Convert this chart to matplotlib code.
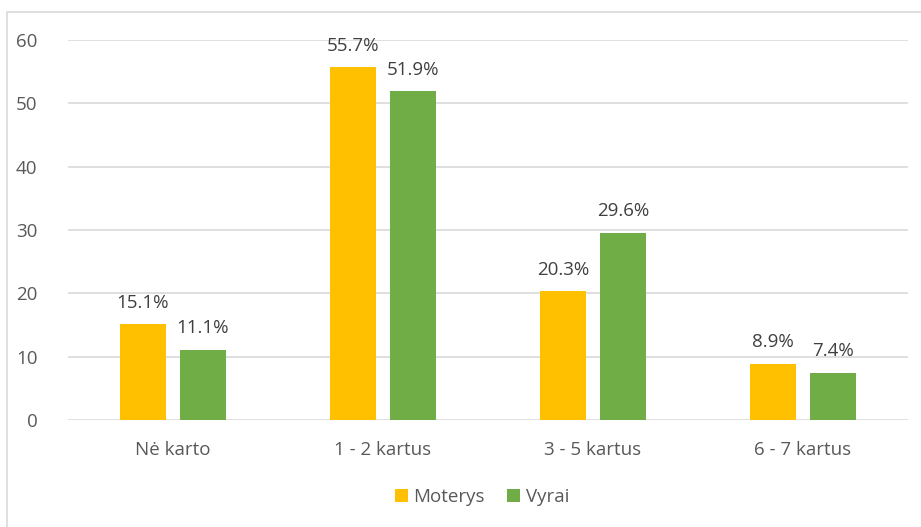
import matplotlib
matplotlib.use("Agg")
import matplotlib.pyplot as plt
import numpy as np
from matplotlib.patches import Rectangle

categories = ["Nė karto", "1 - 2 kartus", "3 - 5 kartus", "6 - 7 kartus"]
moterys = [15.1, 55.7, 20.3, 8.9]
vyrai = [11.1, 51.9, 29.6, 7.4]
series_names = ["Moterys", "Vyrai"]
yticks = [0, 10, 20, 30, 40, 50, 60]

plt.rcParams['font.family'] = ['Open Sans', 'DejaVu Sans']
txt = '#595959'
fs = 13.5

fig = plt.figure(figsize=(9.21, 5.27), dpi=100)
fig.patches.append(Rectangle((7/921, -0.1), 1.2, 1 - 12/527 + 0.1, transform=fig.transFigure,
                             fill=False, edgecolor='#d9d9d9', linewidth=1.2))
ax = fig.add_axes([68/921, 1 - 420/527, 840/921, 380/527])

x = np.arange(len(categories))
w = 0.22
off = 0.143
b1 = ax.bar(x - off, moterys, w, color='#FFC000', label=series_names[0], zorder=3)
b2 = ax.bar(x + off, vyrai, w, color='#70AD47', label=series_names[1], zorder=3)
for bars, vals in ((b1, moterys), (b2, vyrai)):
    for r, v in zip(bars, vals):
        ax.text(r.get_x() + r.get_width()/2, v + 2.0, f"{v:.1f}%", ha='center', va='bottom',
                fontsize=fs, color='#404040')

ax.set_xlim(-0.5, 3.5)
ax.set_ylim(0, 60)
ax.set_yticks(yticks)
ax.set_xticks(x)
ax.set_xticklabels(categories)
ax.grid(axis='y', color='#d9d9d9', linewidth=1.2, zorder=0)
for s in ax.spines.values():
    s.set_visible(False)
ax.tick_params(axis='both', length=0, labelsize=fs, colors=txt)
ax.tick_params(axis='y', pad=22)
ax.tick_params(axis='x', pad=15)

fig.legend(handles=[b1, b2], labels=series_names, loc='center', bbox_to_anchor=(482/921, 1 - 497/527),
           ncol=2, frameon=False, fontsize=fs, labelcolor=txt, handlelength=0.7, handleheight=0.7,
           handletextpad=0.3, columnspacing=1.2)

fig.savefig("out.png", dpi=100)
